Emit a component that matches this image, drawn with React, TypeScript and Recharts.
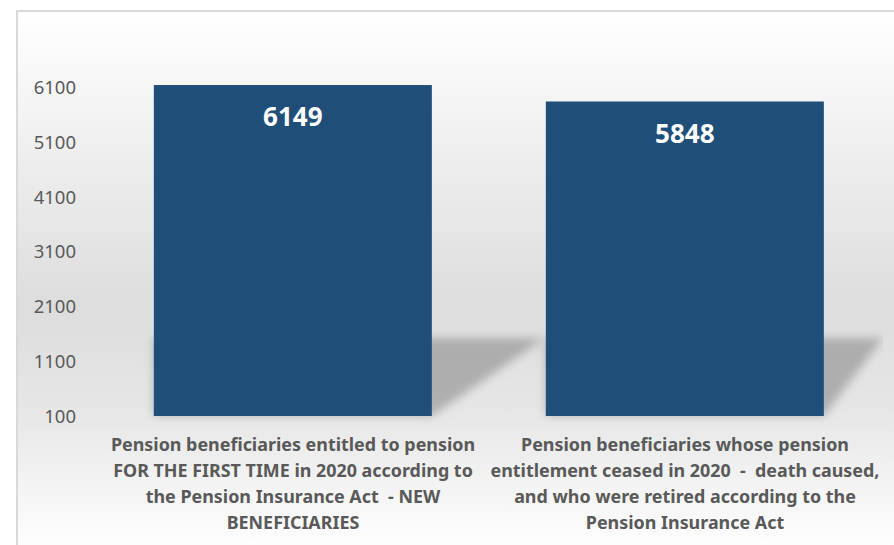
import React from "react";
import { BarChart, Bar, XAxis, YAxis, LabelList } from "recharts";

const categories = ["New beneficiaries", "Ceased entitlement"];
const labelLines = [
  [
    "Pension beneficiaries entitled to pension",
    "FOR THE FIRST TIME in 2020 according to",
    "the Pension Insurance Act  - NEW",
    "BENEFICIARIES",
  ],
  [
    "Pension beneficiaries whose pension",
    "entitlement ceased in 2020  -  death caused,",
    "and who were retired according to the",
    "Pension Insurance Act",
  ],
];
const values = [6149, 5848];
const yTicks = [100, 1100, 2100, 3100, 4100, 5100, 6100];

const data = categories.map((c, i) => ({ name: c, idx: i, value: values[i] }));

const W = 894;
const H = 545;
const PLOT_LEFT = 97;
const PLOT_RIGHT = 881;
const FONT = "'Noto Sans', 'Open Sans', sans-serif";
const GREY = "#595959";

function BarWithShadow(props: any) {
  const { x, y, width, height } = props;
  const bottom = y + height;
  const top = bottom - 78;
  const far = Math.min(x + width + 113, PLOT_RIGHT + 2);
  return (
    <g>
      <polygon
        points={`${x},${top} ${far},${top} ${x + width},${bottom} ${x},${bottom}`}
        fill="#9a9a9a"
        fillOpacity={0.72}
        filter="url(#shadowBlur)"
        clipPath="url(#plotClip)"
      />
      <rect x={x} y={y} width={width} height={height} fill="#1F4E79" />
    </g>
  );
}

function CategoryTick(props: any) {
  const { x, y, payload } = props;
  const lines = labelLines[payload.index] || [];
  return (
    <text
      x={x}
      y={y}
      textAnchor="middle"
      fill={GREY}
      fontFamily={FONT}
      fontWeight={700}
      fontSize={17.9}
      style={{ whiteSpace: "pre" }}
    >
      {lines.map((l, i) => (
        <tspan key={i} x={x} dy={i === 0 ? 27 : 26}>
          {l}
        </tspan>
      ))}
    </text>
  );
}

function ValueLabel(props: any) {
  const { x, y, width, value } = props;
  return (
    <text
      x={x + width / 2}
      y={y + 31}
      textAnchor="middle"
      dominantBaseline="central"
      fill="#ffffff"
      fontFamily={FONT}
      fontWeight={700}
      fontSize={26}
    >
      {value}
    </text>
  );
}

export default function App() {
  return (
    <div style={{ position: "absolute", left: 0, top: 0, width: W, height: H, overflow: "hidden", background: "#fff" }}>
      <div
        style={{
          position: "absolute",
          left: 16,
          top: 10,
          width: W + 20,
          height: H - 10,
          borderLeft: "2px solid #d9d9d9",
          borderTop: "2px solid #d9d9d9",
          background:
            "linear-gradient(to bottom, #ffffff 0%, #f6f6f6 14%, #dddddd 55%, #e6e6e6 74%, #fefefe 100%)",
        }}
      />
      <div style={{ position: "absolute", left: 0, top: 0 }}>
        <BarChart
          width={W}
          height={H}
          data={data}
          margin={{ top: 33, right: W - PLOT_RIGHT, bottom: 0, left: 0 }}
          barCategoryGap="14.5%"
        >
          <defs>
            <filter id="shadowBlur" x="-20%" y="-40%" width="140%" height="180%">
              <feGaussianBlur stdDeviation="5" />
            </filter>
            <clipPath id="plotClip">
              <rect x={PLOT_LEFT} y={0} width={PLOT_RIGHT - PLOT_LEFT + 2} height={H} />
            </clipPath>
          </defs>
          <XAxis
            dataKey="idx"
            axisLine={false}
            tickLine={false}
            tick={<CategoryTick />}
            interval={0}
            height={129}
          />
          <YAxis
            width={PLOT_LEFT}
            domain={[100, 7100]}
            ticks={yTicks}
            axisLine={false}
            tickLine={false}
            tickMargin={15}
            tick={{ fill: GREY, fontSize: 18.5, fontFamily: FONT }}
          />
          <Bar dataKey="value" shape={<BarWithShadow />} isAnimationActive={false}>
            <LabelList dataKey="value" content={<ValueLabel />} />
          </Bar>
        </BarChart>
      </div>
    </div>
  );
}
